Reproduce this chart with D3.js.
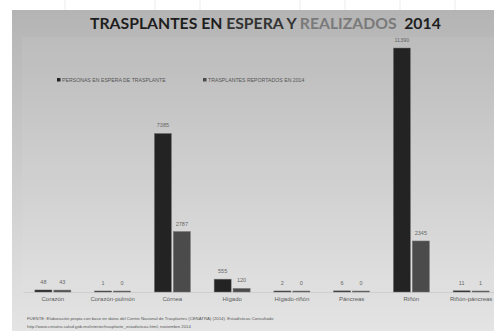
<!DOCTYPE html>
<html>
<head>
<meta charset="utf-8">
<script src="https://cdn.jsdelivr.net/npm/d3@7"></script>
<style>
  body { margin: 0; background: #fff; }
  svg { display: block; }
</style>
</head>
<body>
<svg id="chart"></svg>
<script>
// datos
var organos = ["Corazón", "Corazón-pulmón", "Córnea", "Hígado", "Hígado-riñón", "Páncreas", "Riñón", "Riñón-páncreas"]
var enEspera = [48, 1, 7385, 555, 2, 6, 11390, 11]
var realizados = [43, 0, 2787, 120, 0, 0, 2345, 1]
var serieNombres = ["PERSONAS EN ESPERA DE TRASPLANTE", "TRASPLANTES REPORTADOS EN 2014"]
var tituloPartes = ["TRASPLANTES EN ", "ESPERA Y ", "REALIZADOS ", " 2014"]
var fuente = [
    "FUENTE: Elaboración propia con base en datos del Centro Nacional de Trasplantes (CENATRA) (2014). Estadísticas Consultado",
    "http://www.cenatra.salud.gob.mx/interior/trasplante_estadisticas.html, noviembre 2014"
]

var dimensions = {
    width: 494,
    height: 331,
    margin: { top: 49, bottom: 39, left: 23, right: -7 }
}

var svg = d3.select("#chart")
            .attr("width", dimensions.width)
            .attr("height", dimensions.height)

var defs = svg.append("defs")
var grad = defs.append("linearGradient")
               .attr("id", "fondo")
               .attr("x1", 0).attr("y1", 0).attr("x2", 0).attr("y2", 1)
grad.append("stop").attr("offset", "0%").attr("stop-color", "#b4b4b4")
grad.append("stop").attr("offset", "100%").attr("stop-color", "#e4e4e4")

// hoja de calculo detras
svg.append("g").selectAll("line")
   .data([65, 155, 200, 300, 345, 400, 455])
   .enter().append("line")
   .attr("x1", d => d).attr("x2", d => d)
   .attr("y1", 0).attr("y2", 10)
   .attr("stroke", "#ececec")

svg.append("rect")
   .attr("x", 12).attr("y", 10)
   .attr("width", dimensions.width - 12)
   .attr("height", dimensions.height - 10)
   .attr("fill", "url(#fondo)")

svg.append("rect")
   .attr("x", 22).attr("y", 37)
   .attr("width", dimensions.width - 22)
   .attr("height", 254)
   .attr("fill", "#ffffff")
   .attr("opacity", 0.06)

var xScale = d3.scaleBand()
               .domain(organos)
               .range([dimensions.margin.left, dimensions.width - dimensions.margin.right])

var yScale = d3.scaleLinear()
               .domain([0, 11390])
               .range([dimensions.height - dimensions.margin.bottom, dimensions.margin.top])

var xSub = d3.scaleBand()
             .domain([0, 1])
             .range([xScale.bandwidth() / 2 - 18, xScale.bandwidth() / 2 + 18])
             .paddingInner(0.1)

var colores = ["#232323", "#4b4b4b"]

var xAxisGen = d3.axisBottom().scale(xScale).tickSize(0).tickPadding(5)

var xAxis = svg.append("g")
               .attr("transform", `translate(0, ${yScale(0)})`)
               .call(xAxisGen)
xAxis.select(".domain").attr("stroke", "#cfcfcf")
xAxis.selectAll("text")
     .style("font-family", "Liberation Sans, Arial, sans-serif")
     .style("font-size", "6px")
     .attr("fill", "#5a5a5a")

var series = [enEspera, realizados]

series.forEach((valores, s) => {
    var g = svg.append("g")
    g.selectAll("rect")
     .data(valores)
     .enter()
     .append("rect")
     .attr("x", (d, i) => xScale(organos[i]) + xSub(s))
     .attr("y", d => yScale(d) - 1)
     .attr("width", xSub.bandwidth())
     .attr("height", d => yScale(0) - yScale(d) + 1)
     .attr("fill", colores[s])
     .attr("stroke", "#777")
     .attr("stroke-width", 0.5)

    g.selectAll("text")
     .data(valores)
     .enter()
     .append("text")
     .attr("x", (d, i) => xScale(organos[i]) + xSub(s) + xSub.bandwidth() / 2)
     .attr("y", d => yScale(d) - 7)
     .attr("text-anchor", "middle")
     .style("font-family", "Liberation Sans, Arial, sans-serif")
     .style("font-size", "5.5px")
     .attr("fill", "#666")
     .text(d => d)
})

// leyenda
var legend = svg.append("g").attr("transform", "translate(57, 80)")
var legendX = [0, 146]
legend.selectAll("rect")
      .data(serieNombres)
      .enter()
      .append("rect")
      .attr("x", (d, i) => legendX[i])
      .attr("y", -2)
      .attr("width", 3.5)
      .attr("height", 3.5)
      .attr("fill", (d, i) => colores[i])
legend.selectAll("text")
      .data(serieNombres)
      .enter()
      .append("text")
      .attr("x", (d, i) => legendX[i] + 5)
      .attr("y", 0)
      .attr("dy", "0.35em")
      .style("font-family", "Liberation Sans, Arial, sans-serif")
      .style("font-size", "5.2px")
      .attr("fill", "#555")
      .text(d => d)

// titulo en partes, cada una con su color
var tituloColores = ["#1e1e1e", "#333", "#7a7a7a", "#1e1e1e"]
var titulo = svg.append("g")
var partes = titulo.selectAll("text")
                   .data(tituloPartes)
                   .enter()
                   .append("text")
                   .attr("y", 29)
                   .attr("xml:space", "preserve")
                   .style("white-space", "pre")
                   .style("font-family", "Lato, Liberation Sans, sans-serif")
                   .style("font-weight", "bold")
                   .style("font-size", "17px")
                   .attr("fill", (d, i) => tituloColores[i])
                   .text(d => d)
var anchoTotal = 0
partes.each(function() { anchoTotal += this.getComputedTextLength() })
var tam = 17 * 351 / anchoTotal
partes.style("font-size", tam + "px")
var cursor = 90
partes.each(function() {
    d3.select(this).attr("x", cursor)
    cursor += this.getComputedTextLength()
})

svg.append("g").selectAll("text")
   .data(fuente)
   .enter()
   .append("text")
   .attr("x", 27)
   .attr("y", (d, i) => 320 + i * 8)
   .style("font-family", "Liberation Sans, Arial, sans-serif")
   .style("font-size", "4.3px")
   .attr("fill", "#555")
   .text(d => d)
</script>
</body>
</html>
